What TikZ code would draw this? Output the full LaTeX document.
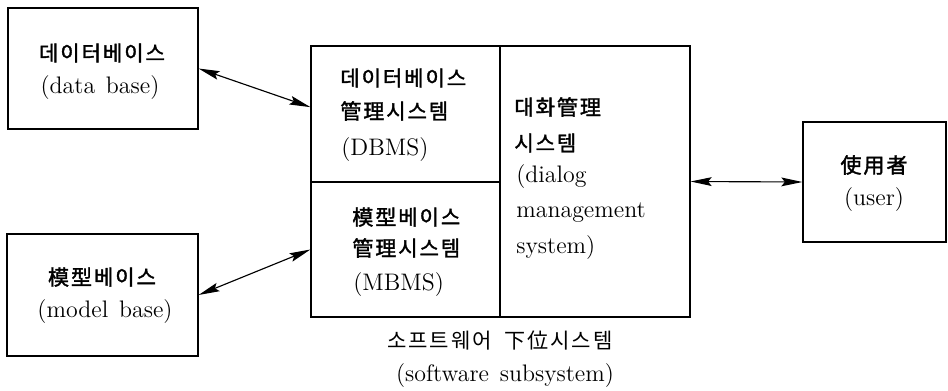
\documentclass[tikz,border=0pt]{standalone}
\usepackage{fontspec}
\newfontfamily\kr{Noto Sans CJK KR}[LetterSpace=9]
\newfontfamily\krb{Noto Sans CJK KR}[LetterSpace=9,FakeBold=1.6]
\usetikzlibrary{arrows.meta,calc}
\begin{document}
\begin{tikzpicture}[x=0.02cm,y=-0.02cm,
  box/.style={draw,line width=0.65pt,inner sep=0pt},
  lat/.style={inner sep=0pt,font=\fontsize{13.6}{16}\selectfont},
  kor/.style={inner sep=0pt,font=\fontsize{12}{14}\krb},
  conn/.style={line width=0.65pt,{Stealth[length=12pt,width=5pt,inset=2pt]}-{Stealth[length=12pt,width=5pt,inset=2pt]}}]
\useasboundingbox (0,0) rectangle (948,390);
% boxes
\node[box,minimum width=190*0.02cm,minimum height=121*0.02cm] (db) at (103,68.5) {};
\node[box,minimum width=191*0.02cm,minimum height=122*0.02cm] (mb) at (102.5,295) {};
\node[box,minimum width=189*0.02cm,minimum height=136*0.02cm] (dbms) at (405.5,114) {};
\node[box,minimum width=189*0.02cm,minimum height=135*0.02cm] (mbms) at (405.5,249.5) {};
\node[box,minimum width=190*0.02cm,minimum height=271*0.02cm] (dlg) at (595,181.5) {};
\node[box,minimum width=143*0.02cm,minimum height=120*0.02cm] (usr) at (874.5,182) {};
% texts
\node[kor] (t1) at (102,53) {데이터베이스};
\node[lat] (t2) at (100,88) {(data\hspace{0.45em}base)};
\node[kor] (t3) at (102,277) {模型베이스};
\node[lat] (t4) at (105,312) {(model\hspace{0.45em}base)};
\node[kor,anchor=west] (t5) at (340,78) {데이터베이스};
\node[kor,anchor=west] (t6) at (340,111) {管理시스템};
\node[lat,anchor=west] (t7) at (341,150) {(DBMS)};
\node[kor,anchor=west] (t8) at (352,217) {模型베이스};
\node[kor,anchor=west] (t9) at (352,248) {管理시스템};
\node[lat,anchor=west] (t10) at (353,285) {(MBMS)};
\node[kor,anchor=west] (t11) at (514,107) {대화管理};
\node[kor,anchor=west] (t12) at (514,143) {시스템};
\node[lat,anchor=west] (t13) at (516,177) {(dialog};
\node[lat,anchor=west] (t14) at (516,213) {management};
\node[lat,anchor=west] (t15) at (516,248) {system)};
\node[kor] (t16) at (874,165) {使用者};
\node[lat] (t17) at (874,200) {(user)};
\node[kor,font=\fontsize{12}{14}\kr] (t18) at (500,341) {소프트웨어\hspace{0.6em}下位시스템};
\node[lat] (t19) at (505,376) {(software\hspace{0.45em}subsystem)};
% connectors
\draw[conn] (db.east) -- ($(dbms.south west)!0.55!(dbms.north west)$);
\draw[conn] (mb.east) -- (mbms.west);
\draw[conn] (dlg.east) -- (usr.west);
\end{tikzpicture}
\end{document}
